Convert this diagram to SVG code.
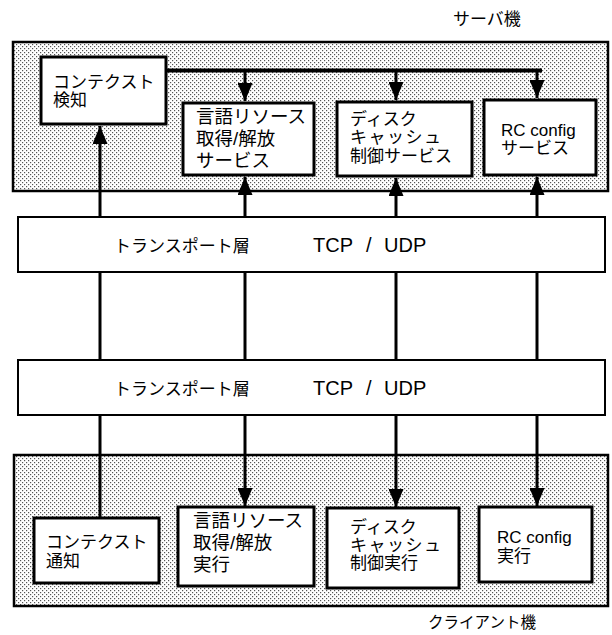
<svg xmlns="http://www.w3.org/2000/svg" width="612" height="635" viewBox="0 0 612 635">
  <style>
    text { font-family: "Liberation Sans", "Noto Sans CJK JP", sans-serif; font-size: 17px; fill: #000; }
    .big { font-size: 18.5px; }
    .latin { font-size: 20px; }
    .spaced { letter-spacing: 1.5px; }
    .machine { fill: url(#dots); stroke: #000; stroke-width: 2.5; }
    .node { fill: #fff; stroke: #000; stroke-width: 3; }
    .layer { fill: #fff; stroke: #000; stroke-width: 2; }
    .conn { stroke: #000; stroke-width: 3; fill: none; }
    .arrow { marker-end: url(#head); }
  </style>
  <defs>
    <pattern id="dots" width="4" height="4" patternUnits="userSpaceOnUse">
      <rect width="4" height="4" fill="#fff"/>
      <rect x="0" y="0" width="1.2" height="1.2" fill="#555"/>
      <rect x="2" y="2" width="1.2" height="1.2" fill="#555"/>
    </pattern>
    <marker id="head" markerUnits="userSpaceOnUse" markerWidth="18" markerHeight="15" refX="18" refY="7.5" orient="auto">
      <path d="M0,0 L18,7.5 L0,15 z" fill="#000"/>
    </marker>
  </defs>

  <g id="server-machine">
    <rect class="machine" x="13" y="42" width="595" height="149"/>
    <text x="453" y="25">サーバ機</text>
  </g>
  <g id="client-machine">
    <rect class="machine" x="14" y="455" width="594" height="151"/>
    <text x="428" y="628" style="font-size:15.5px">クライアント機</text>
  </g>

  <g id="connectors">
    <line class="conn" x1="166" y1="70.5" x2="542" y2="70.5" style="stroke-width:4"/>
    <line class="conn arrow" x1="245" y1="70" x2="245" y2="101"/>
    <line class="conn arrow" x1="396" y1="70" x2="396" y2="100"/>
    <line class="conn arrow" x1="537" y1="70" x2="537" y2="98"/>
    <line class="conn arrow" x1="100" y1="217" x2="100" y2="126"/>
    <line class="conn arrow" x1="245" y1="217" x2="245" y2="177"/>
    <line class="conn arrow" x1="396" y1="217" x2="396" y2="178"/>
    <line class="conn arrow" x1="537" y1="217" x2="537" y2="177"/>
    <line class="conn" x1="100" y1="272" x2="100" y2="360"/>
    <line class="conn" x1="245" y1="272" x2="245" y2="360"/>
    <line class="conn" x1="396" y1="272" x2="396" y2="360"/>
    <line class="conn" x1="537" y1="272" x2="537" y2="360"/>
    <line class="conn" x1="100" y1="415" x2="100" y2="518"/>
    <line class="conn arrow" x1="245" y1="415" x2="245" y2="506"/>
    <line class="conn arrow" x1="396" y1="415" x2="396" y2="507"/>
    <line class="conn arrow" x1="537" y1="415" x2="537" y2="506"/>
  </g>

  <g id="s-context">
    <rect class="node" x="41" y="57" width="125" height="67"/>
    <text x="53" y="88">コンテクスト</text>
    <text x="53" y="106">検知</text>
  </g>
  <g id="s-lang">
    <rect class="node" x="183" y="103" width="131" height="72"/>
    <text class="big" x="196" y="123">言語リソース</text>
    <text class="big" x="196" y="145">取得/解放</text>
    <text class="big" x="196" y="167">サービス</text>
  </g>
  <g id="s-disk">
    <rect class="node" x="337" y="102" width="135" height="74"/>
    <text x="350" y="125">ディスク</text>
    <text class="spaced" x="350" y="143">キャッシュ</text>
    <text x="350" y="162">制御サービス</text>
  </g>
  <g id="s-rc">
    <rect class="node" x="484" y="100" width="112" height="75"/>
    <text x="501" y="136">RC config</text>
    <text x="501" y="154">サービス</text>
  </g>

  <g id="transport-server">
    <rect class="layer" x="18" y="217" width="587" height="55"/>
    <text x="114" y="252">トランスポート層</text>
    <text class="latin" x="313" y="252">TCP</text>
    <text class="latin" x="366" y="252">/</text>
    <text class="latin" x="384" y="252">UDP</text>
  </g>
  <g id="transport-client">
    <rect class="layer" x="18" y="360" width="587" height="55"/>
    <text x="114" y="395">トランスポート層</text>
    <text class="latin" x="313" y="395">TCP</text>
    <text class="latin" x="366" y="395">/</text>
    <text class="latin" x="384" y="395">UDP</text>
  </g>

  <g id="c-context">
    <rect class="node" x="34" y="518" width="125" height="65"/>
    <text x="46" y="548">コンテクスト</text>
    <text x="46" y="567">通知</text>
  </g>
  <g id="c-lang">
    <rect class="node" x="178" y="507" width="136" height="79"/>
    <text class="big" x="193" y="527">言語リソース</text>
    <text class="big" x="193" y="549">取得/解放</text>
    <text class="big" x="193" y="571">実行</text>
  </g>
  <g id="c-disk">
    <rect class="node" x="327" y="508" width="132" height="80"/>
    <text x="350" y="533">ディスク</text>
    <text class="spaced" x="350" y="551">キャッシュ</text>
    <text x="350" y="569">制御実行</text>
  </g>
  <g id="c-rc">
    <rect class="node" x="479" y="507" width="113" height="75"/>
    <text x="497" y="543">RC config</text>
    <text x="497" y="562">実行</text>
  </g>
</svg>
